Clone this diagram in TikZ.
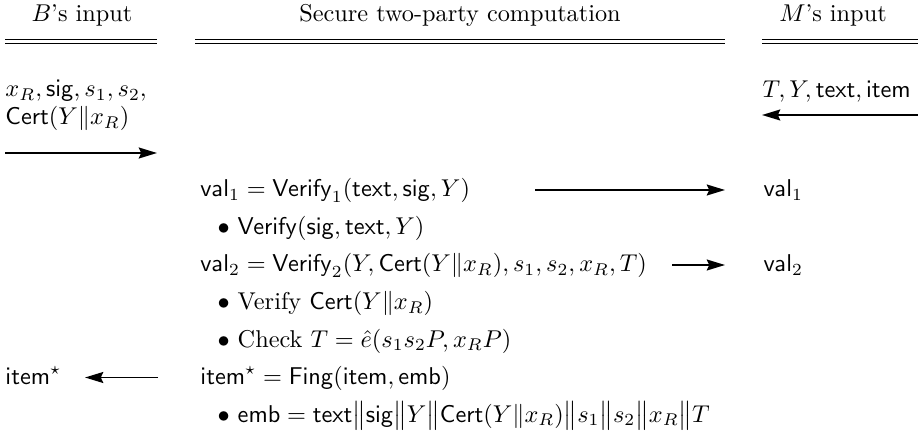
\documentclass[tikz,border=0pt]{standalone}
\usepackage{amsmath}
\usetikzlibrary{arrows.meta}
\begin{document}
\begin{tikzpicture}[x=0.4115pt,y=-0.4115pt,
  txt/.style={inner sep=0pt,anchor=base west},
  head/.style={inner sep=0pt,anchor=base},
  flow/.style={line width=0.8pt,-{Stealth[length=7.5pt,width=4.5pt,inset=1pt]}},
  rule/.style={line width=0.4pt}]
\useasboundingbox (0,0) rectangle (918,435);

% column headings
\node[head] (hB) at (82,22) {$B$'s input};
\node[head] (hS) at (460,22) {Secure two-party computation};
\node[head] (hM) at (833,22) {$M$'s input};

% double rules under the headings
\foreach \yy in {39.5,43} {
  \draw[rule] (5,\yy) -- (157,\yy);
  \draw[rule] (195,\yy) -- (725,\yy);
  \draw[rule] (762,\yy) -- (918,\yy);
}

% B's input
\node[txt] (bin1) at (5,97) {$x_R, \mathsf{sig}, s_1, s_2,$};
\node[txt] (bin2) at (5,125) {$\mathsf{Cert}(Y\|x_R)$};
\coordinate (bA) at (5,153);
\coordinate (bB) at (157,153);
\draw[flow] (bA) -- (bB);

% M's input
\node[txt] (min) at (762,98) {$T, Y, \mathsf{text}, \mathsf{item}$};
\coordinate (mA) at (918,115);
\coordinate (mB) at (762,115);
\draw[flow] (mA) -- (mB);

% computation steps
\node[txt] (v1) at (200,197) {$\mathsf{val}_1 = \mathsf{Verify}_1(\mathsf{text}, \mathsf{sig}, Y)$};
\node[txt] (c1) at (200,234.5) {\hspace{7pt}$\bullet$ $\mathsf{Verify}(\mathsf{sig}, \mathsf{text}, Y)$};
\node[txt] (v2) at (200,272) {$\mathsf{val}_2 = \mathsf{Verify}_2(Y, \mathsf{Cert}(Y\|x_R), s_1, s_2, x_R, T)$};
\node[txt] (c2) at (200,309.5) {\hspace{7pt}$\bullet$ Verify $\mathsf{Cert}(Y\|x_R)$};
\node[txt] (c3) at (200,347) {\hspace{7pt}$\bullet$ Check $T = \hat{e}(s_1 s_2 P, x_R P)$};
\node[txt] (fp) at (200,384.5) {$\mathsf{item}^\star = \mathsf{Fing}(\mathsf{item}, \mathsf{emb})$};
\node[txt] (c4) at (200,422) {\hspace{7pt}$\bullet$ $\mathsf{emb} = \mathsf{text}\big\|\mathsf{sig}\big\|Y\big\|\mathsf{Cert}(Y\|x_R)\big\|s_1\big\|s_2\big\|x_R\big\|T$};

% outputs
\node[txt] (o1) at (763,197) {$\mathsf{val}_1$};
\node[txt] (o2) at (763,272) {$\mathsf{val}_2$};
\node[txt] (o3) at (5,384.5) {$\mathsf{item}^\star$};

% output arrows
\coordinate (a1s) at (535,190);
\coordinate (a1e) at (725,190);
\draw[flow] (a1s) -- (a1e);
\coordinate (a2s) at (672,265);
\coordinate (a2e) at (725,265);
\draw[flow] (a2s) -- (a2e);
\coordinate (a3s) at (158,377.5);
\coordinate (a3e) at (85,377.5);
\draw[flow] (a3s) -- (a3e);
\end{tikzpicture}
\end{document}
